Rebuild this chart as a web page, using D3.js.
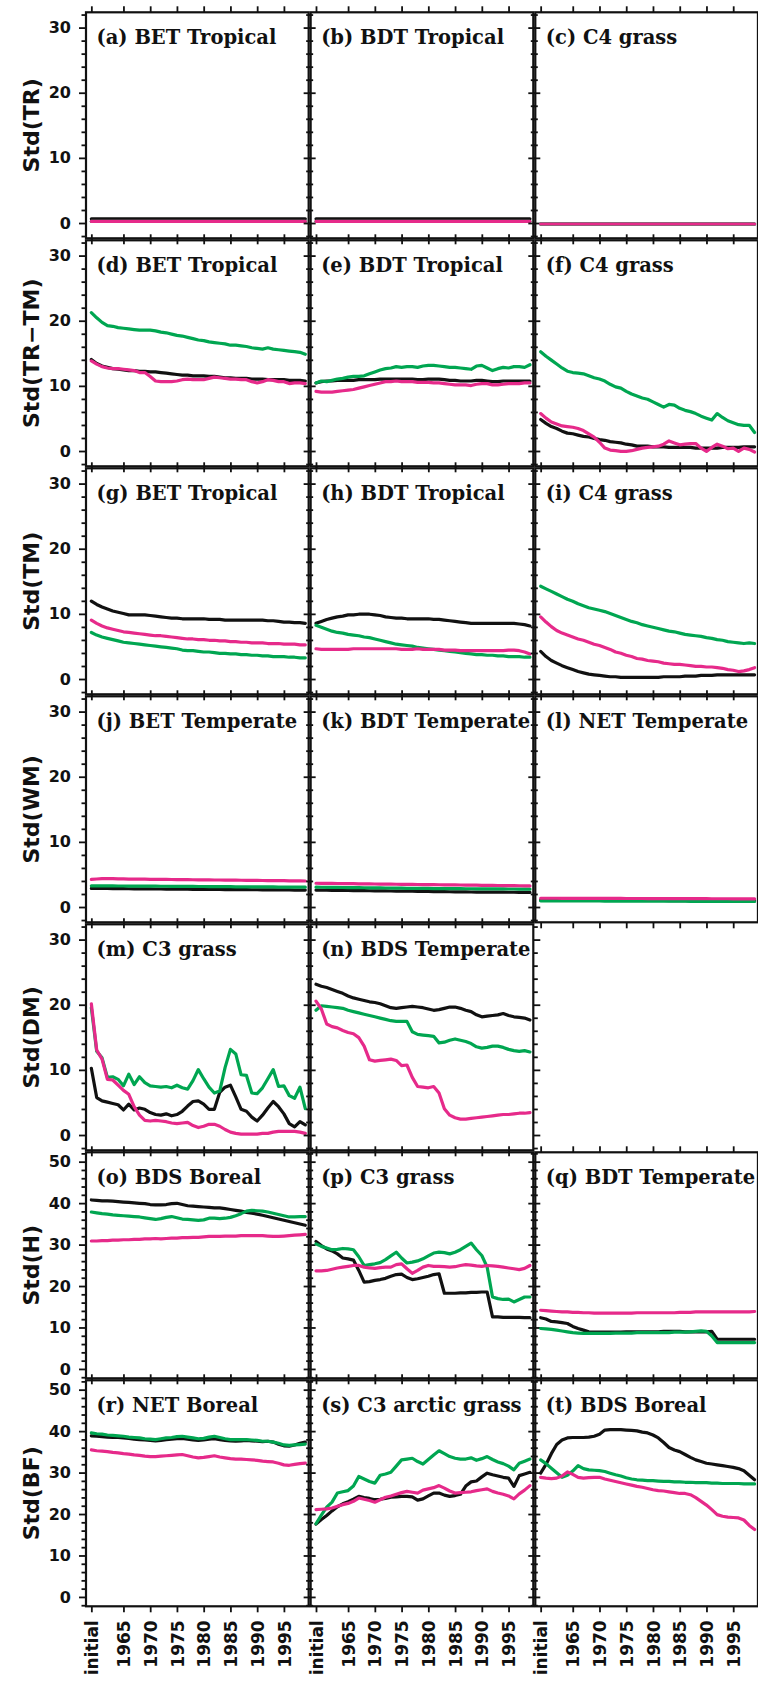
<!DOCTYPE html>
<html>
<head>
  <meta charset="UTF-8">
  <script src="https://d3js.org/d3.v7.min.js"></script>
  <style>
    body { margin: 0; background: #fff; }
  </style>
</head>
<body>
  <div id="my_dataviz"></div>

  <script>
    // x axis: index 0 = initial, then one point per year 1960..1999
    var xTickLabels = ["initial", "1965", "1970", "1975", "1980", "1985", "1990", "1995"];
    var xTickIndex = [0, 6, 11, 16, 21, 26, 31, 36];

    // one y label and y maximum per row
    var rowLabels = ["Std(TR)", "Std(TR\u2212TM)", "Std(TM)", "Std(WM)", "Std(DM)", "Std(H)", "Std(BF)"];
    var rowYMax = [30, 30, 30, 30, 30, 50, 50];

    var panelTitles = [
      "(a) BET Tropical", "(b) BDT Tropical", "(c) C4 grass",
      "(d) BET Tropical", "(e) BDT Tropical", "(f) C4 grass",
      "(g) BET Tropical", "(h) BDT Tropical", "(i) C4 grass",
      "(j) BET Temperate", "(k) BDT Temperate", "(l) NET Temperate",
      "(m) C3 grass", "(n) BDS Temperate", null,
      "(o) BDS Boreal", "(p) C3 grass", "(q) BDT Temperate",
      "(r) NET Boreal", "(s) C3 arctic grass", "(t) BDS Boreal"
    ];

    // ---- series values (black, green, pink) per panel ----
    var a_black = [0.8,0.8,0.8,0.8,0.8,0.8,0.8,0.8,0.8,0.8, 0.8,0.8,0.8,0.8,0.8,0.8,0.8,0.8,0.8,0.8, 0.8,0.8,0.8,0.8,0.8,0.8,0.8,0.8,0.8,0.8, 0.8,0.8,0.8,0.8,0.8,0.8,0.8,0.8,0.8,0.8, 0.8];
    var a_green = [0.4,0.4,0.4,0.4,0.4,0.4,0.4,0.4,0.4,0.4, 0.4,0.4,0.4,0.4,0.4,0.4,0.4,0.4,0.4,0.4, 0.4,0.4,0.4,0.4,0.4,0.4,0.4,0.4,0.4,0.4, 0.4,0.4,0.4,0.4,0.4,0.4,0.4,0.4,0.4,0.4, 0.4];
    var a_pink = [0.4,0.4,0.4,0.4,0.4,0.4,0.4,0.4,0.4,0.4, 0.4,0.4,0.4,0.4,0.4,0.4,0.4,0.4,0.4,0.4, 0.4,0.4,0.4,0.4,0.4,0.4,0.4,0.4,0.4,0.4, 0.4,0.4,0.4,0.4,0.4,0.4,0.4,0.4,0.4,0.4, 0.4];

    var b_black = [0.8,0.8,0.8,0.8,0.8,0.8,0.8,0.8,0.8,0.8, 0.8,0.8,0.8,0.8,0.8,0.8,0.8,0.8,0.8,0.8, 0.8,0.8,0.8,0.8,0.8,0.8,0.8,0.8,0.8,0.8, 0.8,0.8,0.8,0.8,0.8,0.8,0.8,0.8,0.8,0.8, 0.8];
    var b_green = [0.4,0.4,0.4,0.4,0.4,0.4,0.4,0.4,0.4,0.4, 0.4,0.4,0.4,0.4,0.4,0.4,0.4,0.4,0.4,0.4, 0.4,0.4,0.4,0.4,0.4,0.4,0.4,0.4,0.4,0.4, 0.4,0.4,0.4,0.4,0.4,0.4,0.4,0.4,0.4,0.4, 0.4];
    var b_pink = [0.4,0.4,0.4,0.4,0.4,0.4,0.4,0.4,0.4,0.4, 0.4,0.4,0.4,0.4,0.4,0.4,0.4,0.4,0.4,0.4, 0.4,0.4,0.4,0.4,0.4,0.4,0.4,0.4,0.4,0.4, 0.4,0.4,0.4,0.4,0.4,0.4,0.4,0.4,0.4,0.4, 0.4];

    var c_black = [0,0,0,0,0,0,0,0,0,0, 0,0,0,0,0,0,0,0,0,0, 0,0,0,0,0,0,0,0,0,0, 0,0,0,0,0,0,0,0,0,0, 0];
    var c_green = [0,0,0,0,0,0,0,0,0,0, 0,0,0,0,0,0,0,0,0,0, 0,0,0,0,0,0,0,0,0,0, 0,0,0,0,0,0,0,0,0,0, 0];
    var c_pink = [0,0,0,0,0,0,0,0,0,0, 0,0,0,0,0,0,0,0,0,0, 0,0,0,0,0,0,0,0,0,0, 0,0,0,0,0,0,0,0,0,0, 0];

    var d_black = [14.2,13.6,13.2,13.0,12.8,12.7,12.6,12.5,12.5,12.4, 12.4,12.3,12.3,12.2,12.1,12.0,11.9,11.8,11.8,11.7, 11.7,11.7,11.6,11.6,11.5,11.4,11.4,11.3,11.3,11.3, 11.2,11.2,11.2,11.1,11.1,11.1,11.1,11.0,11.0,11.0, 10.9];
    var d_green = [21.4,20.6,19.9,19.4,19.3,19.1,19.0,18.9,18.8,18.7, 18.7,18.7,18.6,18.4,18.3,18.1,17.9,17.8,17.6,17.4, 17.2,17.1,16.9,16.8,16.7,16.6,16.4,16.4,16.3,16.2, 16.0,15.9,15.8,16.0,15.8,15.7,15.6,15.5,15.4,15.3, 15.0];
    var d_pink = [14.0,13.5,13.1,12.9,12.8,12.8,12.7,12.6,12.5,12.2, 12.2,11.6,10.9,10.8,10.8,10.8,10.9,11.1,11.2,11.1, 11.1,11.1,11.3,11.5,11.4,11.3,11.2,11.2,11.1,11.1, 10.8,10.6,10.8,11.1,11.0,10.8,10.8,10.5,10.6,10.6, 10.5];

    var e_black = [10.6,10.8,10.9,10.9,11.0,11.0,11.0,11.0,11.1,11.1, 11.1,11.1,11.2,11.2,11.2,11.2,11.2,11.2,11.2,11.1, 11.1,11.2,11.2,11.2,11.1,11.0,11.0,10.9,10.9,10.9, 11.0,11.0,10.9,10.8,10.8,10.9,10.9,10.9,10.9,10.9, 10.9];
    var e_green = [10.6,10.9,10.8,11.0,11.2,11.3,11.5,11.6,11.6,11.7, 12.0,12.3,12.6,12.8,12.9,13.1,13.0,13.1,13.1,13.0, 13.2,13.3,13.3,13.2,13.1,13.0,13.0,12.9,12.8,12.7, 13.2,13.3,12.9,12.5,12.8,13.0,12.9,13.1,13.1,13.0, 13.4];
    var e_pink = [9.3,9.2,9.2,9.2,9.3,9.4,9.5,9.6,9.8,10.0, 10.2,10.4,10.6,10.8,10.8,10.9,10.8,10.8,10.8,10.7, 10.7,10.7,10.6,10.6,10.5,10.4,10.3,10.3,10.3,10.2, 10.4,10.5,10.5,10.3,10.3,10.4,10.5,10.5,10.5,10.6, 10.6];

    var f_black = [5.0,4.4,3.9,3.6,3.2,2.9,2.8,2.6,2.4,2.3, 2.1,1.9,1.8,1.6,1.5,1.4,1.2,1.1,0.9,0.9, 0.9,0.8,0.8,0.8,0.7,0.7,0.7,0.7,0.7,0.6, 0.6,0.6,0.6,0.6,0.7,0.7,0.7,0.7,0.8,0.8, 0.8];
    var f_green = [15.4,14.7,14.1,13.5,12.9,12.4,12.2,12.1,12.0,11.7, 11.4,11.2,10.9,10.4,10.0,9.8,9.3,8.9,8.6,8.3, 8.1,7.7,7.3,6.9,7.3,7.2,6.7,6.4,6.2,5.9, 5.5,5.2,4.9,5.9,5.3,4.8,4.5,4.2,4.1,4.1, 3.0];
    var f_pink = [5.9,5.2,4.6,4.3,4.0,3.9,3.8,3.6,3.3,2.8, 2.3,1.5,0.6,0.3,0.2,0.1,0.1,0.2,0.4,0.6, 0.7,0.8,0.9,1.2,1.7,1.4,1.1,1.2,1.3,1.3, 0.6,0.1,0.7,1.2,0.9,0.5,0.6,0.1,0.6,0.4, 0.0];

    var g_black = [12.1,11.6,11.2,10.9,10.6,10.4,10.2,10.0,10.0,10.0, 10.0,9.9,9.8,9.7,9.6,9.5,9.5,9.4,9.4,9.4, 9.4,9.4,9.3,9.3,9.3,9.2,9.2,9.2,9.2,9.2, 9.2,9.2,9.2,9.1,9.1,9.0,8.9,8.9,8.8,8.8, 8.7];
    var g_green = [7.3,6.9,6.6,6.4,6.2,6.0,5.8,5.7,5.6,5.5, 5.4,5.3,5.2,5.1,5.0,4.9,4.8,4.6,4.5,4.5, 4.4,4.3,4.3,4.2,4.1,4.1,4.0,4.0,3.9,3.9, 3.8,3.8,3.7,3.7,3.6,3.6,3.6,3.5,3.5,3.4, 3.4];
    var g_pink = [9.2,8.7,8.3,8.0,7.8,7.6,7.4,7.3,7.2,7.1, 7.0,6.9,6.8,6.8,6.7,6.6,6.5,6.4,6.3,6.3, 6.2,6.2,6.1,6.1,6.0,6.0,5.9,5.9,5.8,5.8, 5.7,5.7,5.7,5.6,5.6,5.6,5.5,5.5,5.5,5.4, 5.4];

    var h_black = [8.7,9.0,9.3,9.5,9.7,9.8,10.0,10.0,10.1,10.1, 10.1,10.0,9.9,9.7,9.6,9.5,9.5,9.4,9.4,9.4, 9.4,9.4,9.3,9.3,9.2,9.1,9.0,8.9,8.8,8.7, 8.7,8.7,8.7,8.7,8.7,8.7,8.7,8.7,8.6,8.5, 8.3];
    var h_green = [8.4,8.1,7.8,7.5,7.3,7.2,7.0,6.9,6.8,6.6, 6.5,6.3,6.1,5.9,5.7,5.5,5.4,5.3,5.2,5.0, 4.9,4.8,4.7,4.6,4.5,4.4,4.3,4.2,4.1,4.0, 3.9,3.9,3.8,3.8,3.7,3.7,3.6,3.6,3.6,3.5, 3.5];
    var h_pink = [4.8,4.7,4.7,4.7,4.7,4.7,4.7,4.8,4.8,4.8, 4.8,4.8,4.8,4.8,4.8,4.8,4.7,4.7,4.7,4.8, 4.7,4.7,4.7,4.7,4.6,4.6,4.6,4.5,4.5,4.5, 4.5,4.5,4.5,4.5,4.5,4.5,4.6,4.6,4.5,4.3, 4.0];

    var i_black = [4.4,3.6,3.0,2.6,2.2,1.9,1.6,1.3,1.1,0.9, 0.8,0.7,0.6,0.5,0.5,0.4,0.4,0.4,0.4,0.4, 0.4,0.4,0.4,0.5,0.5,0.5,0.5,0.6,0.6,0.6, 0.7,0.7,0.7,0.8,0.8,0.8,0.8,0.8,0.8,0.8, 0.8];
    var i_green = [14.4,14.0,13.6,13.2,12.8,12.4,12.1,11.7,11.4,11.1, 10.9,10.7,10.5,10.2,9.9,9.6,9.3,9.0,8.8,8.5, 8.3,8.1,7.9,7.7,7.5,7.4,7.2,7.0,6.9,6.8, 6.7,6.5,6.4,6.2,6.1,5.9,5.8,5.7,5.6,5.7, 5.6];
    var i_pink = [9.7,8.9,8.2,7.6,7.2,6.9,6.6,6.3,6.1,5.8, 5.5,5.3,5.0,4.7,4.3,4.1,3.8,3.6,3.3,3.2, 3.0,2.9,2.8,2.6,2.5,2.4,2.4,2.3,2.2,2.1, 2.1,2.0,2.0,1.9,1.8,1.6,1.5,1.3,1.4,1.6, 1.9];

    var j_black = [3.00,3.00,3.00,3.00,2.99,2.98,2.97,2.96,2.95,2.95, 2.94,2.93,2.92,2.92,2.91,2.90,2.90,2.89,2.88,2.87, 2.87,2.86,2.85,2.85,2.84,2.83,2.83,2.82,2.81,2.81, 2.80,2.80,2.79,2.79,2.78,2.78,2.77,2.77,2.76,2.76, 2.75];
    var j_green = [3.40,3.40,3.40,3.39,3.39,3.38,3.38,3.37,3.37,3.36, 3.36,3.35,3.35,3.34,3.34,3.33,3.33,3.32,3.32,3.31, 3.30,3.30,3.29,3.29,3.28,3.27,3.27,3.26,3.26,3.25, 3.25,3.24,3.24,3.23,3.23,3.22,3.22,3.21,3.21,3.20, 3.20];
    var j_pink = [4.40,4.45,4.50,4.50,4.50,4.48,4.46,4.45,4.44,4.43, 4.42,4.41,4.40,4.40,4.39,4.38,4.37,4.36,4.35,4.34, 4.33,4.32,4.31,4.30,4.30,4.29,4.28,4.27,4.26,4.25, 4.24,4.23,4.22,4.21,4.20,4.20,4.19,4.18,4.17,4.16, 4.15];

    var k_black = [2.75,2.74,2.73,2.72,2.71,2.70,2.69,2.68,2.67,2.66, 2.65,2.64,2.63,2.62,2.61,2.60,2.59,2.58,2.57,2.56, 2.55,2.54,2.53,2.52,2.51,2.50,2.49,2.48,2.47,2.46, 2.45,2.45,2.44,2.44,2.43,2.43,2.42,2.42,2.41,2.41, 2.40];
    var k_green = [3.20,3.19,3.18,3.17,3.16,3.15,3.14,3.13,3.12,3.11, 3.10,3.09,3.08,3.07,3.06,3.05,3.04,3.03,3.02,3.01, 3.00,3.00,2.99,2.99,2.98,2.98,2.97,2.97,2.96,2.96, 2.95,2.95,2.94,2.94,2.93,2.93,2.92,2.92,2.91,2.91, 2.90];
    var k_pink = [3.80,3.79,3.78,3.77,3.76,3.75,3.74,3.73,3.72,3.71, 3.70,3.69,3.68,3.67,3.66,3.65,3.64,3.63,3.62,3.61, 3.60,3.59,3.58,3.57,3.56,3.55,3.54,3.53,3.52,3.51, 3.50,3.49,3.48,3.47,3.46,3.45,3.44,3.43,3.42,3.41, 3.40];

    var l_black = [1.20,1.20,1.20,1.20,1.19,1.19,1.19,1.19,1.18,1.18, 1.18,1.18,1.17,1.17,1.17,1.17,1.16,1.16,1.16,1.16, 1.15,1.15,1.15,1.15,1.14,1.14,1.14,1.14,1.13,1.13, 1.13,1.13,1.12,1.12,1.12,1.12,1.11,1.11,1.11,1.11, 1.10];
    var l_green = [1.10,1.10,1.10,1.10,1.09,1.09,1.09,1.09,1.08,1.08, 1.08,1.08,1.07,1.07,1.07,1.07,1.06,1.06,1.06,1.06, 1.05,1.05,1.05,1.05,1.04,1.04,1.04,1.04,1.03,1.03, 1.03,1.03,1.02,1.02,1.02,1.02,1.01,1.01,1.01,1.01, 1.00];
    var l_pink = [1.50,1.50,1.50,1.50,1.49,1.49,1.49,1.49,1.48,1.48, 1.48,1.48,1.47,1.47,1.47,1.47,1.46,1.46,1.46,1.46, 1.45,1.45,1.45,1.45,1.44,1.44,1.44,1.44,1.43,1.43, 1.43,1.43,1.42,1.42,1.42,1.42,1.41,1.41,1.41,1.41, 1.40];

    var m_black = [10.4,5.9,5.4,5.2,5.0,4.8,4.0,4.9,4.0,4.3, 4.1,3.6,3.3,3.2,3.4,3.1,3.3,3.8,4.6,5.3, 5.4,4.9,4.1,4.1,6.7,7.5,7.8,6.0,4.1,3.8, 2.9,2.3,3.2,4.3,5.3,4.5,3.4,1.9,1.4,2.2, 1.7];
    var m_green = [19.7,13.0,12.0,9.0,9.1,8.7,7.7,9.5,7.9,9.1, 8.2,7.7,7.6,7.5,7.6,7.4,7.8,7.4,7.2,8.5, 10.2,8.8,7.5,6.6,6.9,10.5,13.3,12.6,9.4,9.3, 6.6,6.5,7.4,8.8,10.2,7.6,7.7,6.2,5.8,7.5, 4.2];
    var m_pink = [20.3,13.2,11.8,8.7,8.6,7.8,7.0,6.4,4.5,3.2, 2.4,2.3,2.4,2.3,2.2,2.0,1.9,2.0,2.1,1.6, 1.3,1.5,1.8,1.8,1.5,1.0,0.6,0.4,0.3,0.3, 0.3,0.3,0.4,0.4,0.6,0.7,0.7,0.7,0.7,0.6, 0.4];

    var n_black = [23.3,23.0,22.8,22.5,22.2,21.9,21.5,21.2,21.0,20.8, 20.6,20.5,20.3,20.0,19.7,19.6,19.7,19.8,19.9,19.8, 19.7,19.5,19.3,19.4,19.6,19.8,19.8,19.6,19.3,19.1, 18.6,18.3,18.4,18.5,18.6,18.8,18.5,18.3,18.2,18.1, 17.8];
    var n_green = [19.3,20.0,19.9,19.8,19.7,19.6,19.3,19.1,18.9,18.7, 18.5,18.3,18.1,17.9,17.7,17.6,17.6,17.6,16.0,15.6, 15.5,15.4,15.3,14.3,14.4,14.7,14.9,14.7,14.5,14.2, 13.7,13.5,13.6,13.8,13.8,13.6,13.3,13.1,13.0,13.1, 12.9];
    var n_pink = [20.7,19.5,17.2,16.8,16.6,16.2,15.9,15.7,15.1,13.8, 11.7,11.5,11.6,11.7,11.8,11.6,10.8,10.9,9.0,7.6, 7.5,7.4,7.6,6.6,4.2,3.2,2.8,2.6,2.6,2.7, 2.8,2.9,3.0,3.1,3.2,3.3,3.3,3.4,3.5,3.5, 3.6];

    var o_black = [41.0,40.9,40.8,40.8,40.7,40.6,40.5,40.4,40.3,40.2, 40.1,39.9,39.8,39.8,39.9,40.1,40.2,39.9,39.6,39.5, 39.4,39.3,39.2,39.1,39.1,38.9,38.7,38.5,38.3,38.0, 37.8,37.6,37.3,37.0,36.7,36.4,36.1,35.8,35.5,35.2, 34.9];
    var o_green = [38.1,37.9,37.7,37.6,37.4,37.3,37.2,37.1,37.0,36.9, 36.7,36.5,36.3,36.5,36.8,37.0,36.7,36.4,36.3,36.2, 36.1,36.2,36.6,36.6,36.5,36.6,36.8,37.2,37.7,38.3, 38.5,38.4,38.3,38.1,37.8,37.5,37.2,36.9,36.9,37.0, 37.0];
    var o_pink = [31.1,31.1,31.2,31.2,31.3,31.3,31.4,31.4,31.5,31.5, 31.6,31.6,31.7,31.6,31.7,31.8,31.8,31.9,31.9,32.0, 32.0,32.1,32.2,32.2,32.2,32.3,32.3,32.3,32.4,32.4, 32.4,32.4,32.4,32.3,32.2,32.2,32.3,32.4,32.5,32.6, 32.7];

    var p_black = [31.0,30.0,29.2,28.7,28.0,27.0,26.8,26.5,24.0,21.2, 21.3,21.6,21.8,22.1,22.6,23.0,23.1,22.3,21.8,22.0, 22.3,22.6,23.0,23.2,18.5,18.5,18.5,18.6,18.6,18.7, 18.7,18.8,18.8,12.8,12.8,12.7,12.7,12.7,12.7,12.6, 12.6];
    var p_green = [30.4,29.8,29.4,29.0,29.1,29.3,29.2,29.0,27.3,25.2, 25.4,25.6,25.9,26.6,27.5,28.4,27.0,25.8,26.0,26.3, 26.8,27.5,28.2,28.4,28.3,28.0,28.4,29.0,29.8,30.6, 29.0,27.6,24.8,17.6,17.2,17.0,17.1,16.4,17.0,17.6, 17.6];
    var p_pink = [23.9,23.9,24.0,24.3,24.6,24.8,25.0,25.2,25.2,24.8, 24.6,24.5,24.7,24.8,24.8,25.4,25.6,24.4,23.3,24.0, 24.8,25.2,25.0,25.0,24.9,24.8,24.9,25.2,25.4,25.3, 25.1,25.0,25.2,25.1,25.0,24.8,24.6,24.4,24.2,24.5, 25.2];

    var q_black = [12.6,12.3,11.7,11.6,11.4,11.2,10.5,10.0,9.6,9.2, 9.1,9.1,9.1,9.1,9.1,9.1,9.2,9.2,9.2,9.2, 9.2,9.2,9.2,9.3,9.3,9.3,9.3,9.2,9.2,9.2, 9.2,9.2,9.3,7.4,7.4,7.4,7.4,7.4,7.4,7.4, 7.4];
    var q_green = [10.0,9.9,9.8,9.6,9.4,9.2,9.0,8.9,8.8,8.8, 8.8,8.8,8.8,8.8,8.9,8.9,8.9,8.9,9.0,9.0, 9.0,9.0,9.0,9.0,9.0,9.1,9.1,9.1,9.2,9.3, 9.4,9.3,8.2,6.6,6.6,6.6,6.6,6.6,6.6,6.6, 6.6];
    var q_pink = [14.4,14.3,14.2,14.1,14.0,14.0,13.9,13.9,13.8,13.8, 13.7,13.7,13.7,13.7,13.7,13.7,13.7,13.7,13.8,13.8, 13.8,13.8,13.8,13.8,13.8,13.8,13.9,13.9,13.9,14.0, 14.0,14.0,14.0,14.0,14.0,14.0,14.0,14.0,14.0,14.0, 14.1];

    var r_black = [39.1,39.0,38.9,38.8,38.7,38.7,38.6,38.5,38.3,38.2, 38.1,38.0,37.9,38.0,38.2,38.3,38.4,38.5,38.3,38.1, 38.0,38.1,38.3,38.4,38.2,38.0,37.9,37.8,37.9,38.0, 37.9,37.8,37.7,37.8,37.6,37.1,36.7,36.6,36.9,37.3, 37.6];
    var r_green = [39.8,39.6,39.5,39.3,39.2,39.1,39.0,38.8,38.7,38.6, 38.4,38.3,38.2,38.4,38.6,38.7,38.9,39.0,38.8,38.6, 38.4,38.5,38.8,39.0,38.7,38.4,38.2,38.2,38.2,38.2, 38.1,38.0,37.8,37.8,37.6,37.3,36.9,36.8,36.9,37.0, 37.1];
    var r_pink = [35.7,35.5,35.4,35.3,35.1,35.0,34.8,34.7,34.5,34.4, 34.2,34.1,34.1,34.2,34.3,34.4,34.5,34.6,34.3,34.0, 33.8,33.9,34.1,34.3,34.0,33.8,33.6,33.5,33.5,33.4, 33.3,33.2,33.0,32.9,32.8,32.5,32.1,32.0,32.2,32.4, 32.5];

    var s_black = [17.8,18.9,19.9,21.0,22.0,22.7,23.2,23.8,24.5,24.2, 24.0,23.7,23.8,24.0,24.3,24.4,24.5,24.5,24.4,23.6, 23.9,24.6,25.3,25.3,24.8,24.5,24.7,25.0,27.0,28.0, 28.2,29.2,30.1,29.7,29.4,29.1,28.9,26.9,29.5,29.9, 30.3];
    var s_green = [17.9,20.0,21.9,23.1,25.3,25.6,25.9,27.0,29.3,28.7, 28.1,27.7,29.6,29.9,30.3,31.8,33.3,33.5,33.7,32.9, 32.3,33.4,34.5,35.5,34.8,34.1,33.7,33.5,33.5,33.8, 33.2,33.6,34.1,33.4,32.8,32.4,31.8,30.9,32.5,33.0, 33.5];
    var s_pink = [21.3,21.4,21.5,21.7,22.1,22.5,22.8,23.3,24.1,23.8, 23.5,23.1,23.7,24.3,24.6,25.0,25.4,25.7,25.5,25.3, 26.0,26.3,26.6,27.1,26.5,25.8,25.3,25.4,25.5,25.6, 25.9,26.1,26.3,25.7,25.3,25.0,24.6,23.9,25.1,26.0, 27.1];

    var t_black = [30.1,32.2,34.8,37.0,38.1,38.6,38.7,38.7,38.7,38.8, 39.0,39.5,40.5,40.6,40.6,40.6,40.5,40.4,40.3,40.0, 39.8,39.3,38.6,37.5,36.3,35.7,35.3,34.6,33.9,33.3, 32.9,32.5,32.3,32.1,31.9,31.7,31.5,31.2,30.7,29.6, 28.5];
    var t_green = [33.3,32.4,31.3,30.2,29.1,29.6,30.6,31.9,31.2,30.9, 30.8,30.7,30.5,30.1,29.7,29.4,29.0,28.7,28.5,28.4, 28.3,28.3,28.2,28.1,28.1,28.0,28.0,27.9,27.9,27.8, 27.8,27.8,27.7,27.7,27.6,27.6,27.6,27.6,27.5,27.5, 27.5];
    var t_pink = [29.1,28.9,28.8,28.9,29.4,30.4,29.8,29.1,28.9,29.0, 29.1,29.1,28.7,28.4,28.1,27.8,27.5,27.2,26.9,26.7, 26.4,26.1,25.9,25.8,25.6,25.4,25.2,25.2,24.9,24.2, 23.3,22.4,21.3,20.1,19.7,19.5,19.4,19.3,18.8,17.5, 16.5];

    // panels in reading order (null = empty slot)
    var panelSeries = [
      [a_black, a_green, a_pink], [b_black, b_green, b_pink], [c_black, c_green, c_pink],
      [d_black, d_green, d_pink], [e_black, e_green, e_pink], [f_black, f_green, f_pink],
      [g_black, g_green, g_pink], [h_black, h_green, h_pink], [i_black, i_green, i_pink],
      [j_black, j_green, j_pink], [k_black, k_green, k_pink], [l_black, l_green, l_pink],
      [m_black, m_green, m_pink], [n_black, n_green, n_pink], null,
      [o_black, o_green, o_pink], [p_black, p_green, p_pink], [q_black, q_green, q_pink],
      [r_black, r_green, r_pink], [s_black, s_green, s_pink], [t_black, t_green, t_pink]
    ];
    var seriesColors = ["#111111", "#00a651", "#e62a8a"];

    // layout
    var left0 = 86, colStep = 224.65, pw = 222.65;
    var top0 = 12.3, rowStep = 228, ph = 226;
    var nRows = 7, nCols = 3;

    var svg = d3.select("#my_dataviz").append("svg")
      .attr("width", 758)
      .attr("height", 1684)
      .style("background", "#fff");

    var line = function (x, y) {
      return d3.line()
        .x(function (d, i) { return x(i); })
        .y(function (d) { return y(d); });
    };

    panelSeries.forEach(function (series, k) {
      if (!series) return;
      var row = Math.floor(k / nCols), col = k % nCols;
      var x0 = left0 + col * colStep, y0 = top0 + row * rowStep;
      var yMax = rowYMax[row];

      var x = d3.scaleLinear().domain([-1, 41]).range([x0, x0 + colStep]);
      var y = d3.scaleLinear().domain([-2.5, yMax + 2.5]).range([y0 + rowStep, y0]);

      var g = svg.append("g");

      // data lines
      series.forEach(function (vals, s) {
        g.append("path")
          .datum(vals)
          .attr("fill", "none")
          .attr("stroke", seriesColors[s])
          .attr("stroke-width", 3.2)
          .attr("stroke-linejoin", "round")
          .attr("stroke-linecap", "round")
          .attr("d", line(x, y));
      });

      // frame
      g.append("rect")
        .attr("x", x0).attr("y", y0)
        .attr("width", pw).attr("height", ph)
        .attr("fill", "none")
        .attr("stroke", "#111")
        .attr("stroke-width", 2.2);

      var majors = d3.range(0, yMax + 1, 10);
      var minors = d3.range(-2, yMax + 3, 2).filter(function (v) { return v % 10 !== 0; });
      var yL = y.copy().range([y0 + rowStep - 1, y0 - 1]);

      // y ticks, both sides, outward
      g.append("g").attr("transform", "translate(" + x0 + ",0)")
        .call(d3.axisLeft(yL).tickValues(majors).tickSize(7).tickPadding(8)
          .tickFormat(col === 0 ? d3.format("d") : function () { return ""; }));
      g.append("g").attr("transform", "translate(" + x0 + ",0)")
        .call(d3.axisLeft(yL).tickValues(minors).tickSize(4.5).tickFormat(""));
      g.append("g").attr("transform", "translate(" + (x0 + pw) + ",0)")
        .call(d3.axisRight(yL).tickValues(majors).tickSize(7).tickFormat(""));
      g.append("g").attr("transform", "translate(" + (x0 + pw) + ",0)")
        .call(d3.axisRight(yL).tickValues(minors).tickSize(4.5).tickFormat(""));

      // x ticks top and bottom, outward
      g.append("g").attr("transform", "translate(0," + y0 + ")")
        .call(d3.axisTop(x).tickValues(xTickIndex).tickSize(6).tickFormat(""));
      var bottom = g.append("g").attr("transform", "translate(0," + (y0 + ph) + ")")
        .call(d3.axisBottom(x).tickValues(xTickIndex).tickSize(6)
          .tickFormat(row === nRows - 1 ? function (d, i) { return xTickLabels[i]; } : function () { return ""; }));

      g.selectAll(".domain").remove();
      g.selectAll(".tick line").attr("stroke", "#111").attr("stroke-width", 1.8);
      g.selectAll(".tick text")
        .attr("fill", "#111")
        .style("font-family", "DejaVu Sans")
        .style("font-weight", "bold")
        .style("font-size", "16px");

      if (row === nRows - 1) {
        bottom.selectAll("text")
          .attr("transform", "rotate(-90)")
          .attr("x", -14)
          .attr("y", 0)
          .attr("dy", "0.36em")
          .style("text-anchor", "end")
          .style("font-size", "17px");
      }

      // panel title
      g.append("text")
        .attr("x", x0 + 10.5)
        .attr("y", y0 + 32)
        .style("font-family", "DejaVu Serif")
        .style("font-weight", "bold")
        .style("font-size", "19.5px")
        .attr("fill", "#111")
        .text(panelTitles[k]);
    });

    // row labels
    rowLabels.forEach(function (lab, row) {
      var cy = top0 + row * rowStep + ph / 2;
      svg.append("text")
        .attr("transform", "translate(39," + cy + ") rotate(-90)")
        .attr("text-anchor", "middle")
        .style("font-family", "DejaVu Sans")
        .style("font-weight", "bold")
        .style("font-size", "22px")
        .attr("fill", "#111")
        .text(lab);
    });
  </script>
</body>
</html>
